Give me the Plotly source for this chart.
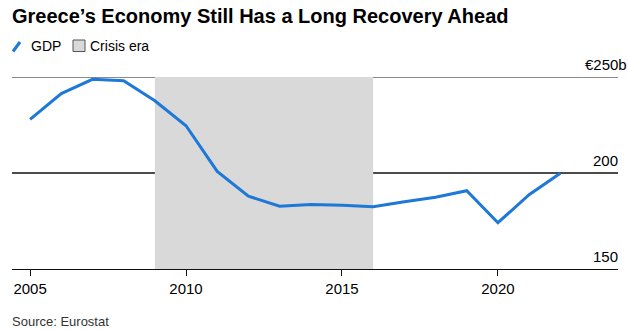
import plotly.graph_objects as go

# Greek GDP, € billions (Eurostat)
years = list(range(2005, 2023))
gdp = [227.9, 241.4, 248.8, 248.1, 237.6, 224.6, 200.8, 187.9, 182.7, 183.6,
       183.2, 182.4, 185.0, 187.4, 190.8, 174.1, 188.7, 199.9]

crisis_start, crisis_end = 2009, 2016
x_ticks = [2005, 2010, 2015, 2020]
y_range = [150, 250]
y_labels = {250: "€250b", 200: "200", 150: "150"}

W, H = 628, 330
L, R, T, B = 12, 10, 77, 61
PW, PH = W - L - R, H - T - B

FONT = "Liberation Sans, Arial, sans-serif"
BLUE = "#1e78d7"


def px(x):
    return (x - L) / PW


def py(y):
    return (H - B - y) / PH


fig = go.Figure()

fig.add_trace(go.Scatter(
    x=years, y=gdp, mode="lines",
    line=dict(color=BLUE, width=3),
    cliponaxis=False, showlegend=False, hoverinfo="x+y",
))

shapes = [
    # crisis-era shading
    dict(type="rect", xref="x", yref="y", x0=crisis_start, x1=crisis_end,
         y0=y_range[0], y1=y_range[1], fillcolor="#d9d9d9",
         line=dict(width=0), layer="below"),
    # horizontal reference lines
    dict(type="line", xref="paper", yref="y", x0=0, x1=1, y0=250, y1=250,
         line=dict(color="#8a8a8a", width=2), layer="below"),
    dict(type="line", xref="paper", yref="y", x0=0, x1=1, y0=200, y1=200,
         line=dict(color="#111111", width=1.3), layer="below"),
    # legend swatches
    dict(type="line", xref="paper", yref="paper", x0=px(13), x1=px(20),
         y0=py(51.5), y1=py(42), line=dict(color=BLUE, width=3)),
    dict(type="rect", xref="paper", yref="paper", x0=px(73), x1=px(85),
         y0=py(51.5), y1=py(40), fillcolor="#d9d9d9",
         line=dict(color="#555555", width=1)),
]

annotations = [
    dict(text="<b>Greece’s Economy Still Has a Long Recovery Ahead</b>",
         xref="paper", yref="paper", x=px(10), y=py(3),
         xanchor="left", yanchor="top", showarrow=False,
         font=dict(family=FONT, size=20, color="#000000")),
    dict(text="GDP", xref="paper", yref="paper", x=px(29), y=py(46),
         xanchor="left", yanchor="middle", showarrow=False,
         font=dict(family=FONT, size=14, color="#000000")),
    dict(text="Crisis era", xref="paper", yref="paper", x=px(88), y=py(46),
         xanchor="left", yanchor="middle", showarrow=False,
         font=dict(family=FONT, size=14, color="#000000")),
    dict(text="Source: Eurostat", xref="paper", yref="paper", x=px(10), y=py(312),
         xanchor="left", yanchor="top", showarrow=False,
         font=dict(family=FONT, size=13, color="#333333")),
]

for val, label in y_labels.items():
    extra = 9 if label.endswith("b") else 0
    annotations.append(dict(
        text=label, xref="paper", yref="y", x=1, y=val,
        xanchor="right", yanchor="bottom", xshift=extra + 2, yshift=2,
        showarrow=False, font=dict(family=FONT, size=15, color="#000000"),
    ))

fig.update_layout(
    width=W, height=H,
    margin=dict(l=L, r=R, t=T, b=B, pad=0),
    paper_bgcolor="white", plot_bgcolor="white",
    shapes=shapes, annotations=annotations,
    showlegend=False,
    xaxis=dict(
        range=[2004.42, 2023.85], tickvals=x_ticks,
        ticktext=[str(v) for v in x_ticks],
        showgrid=False, zeroline=False,
        showline=True, linecolor="#111111", linewidth=1.3,
        ticks="outside", ticklen=6, tickcolor="#111111", tickwidth=1.3,
        tickfont=dict(family=FONT, size=15, color="#000000"),
        fixedrange=True,
    ),
    yaxis=dict(
        range=y_range, showgrid=False, zeroline=False,
        showticklabels=False, showline=False, fixedrange=True,
    ),
)

fig.write_html("out.html")
